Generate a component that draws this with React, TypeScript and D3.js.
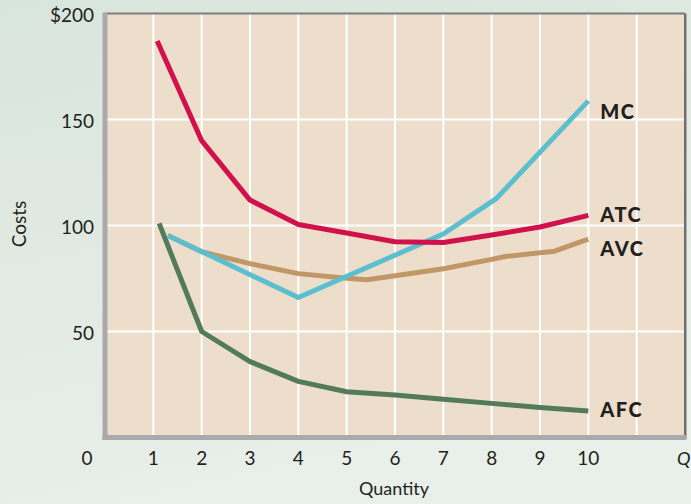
import React from "react";
import * as d3 from "d3";

const W = 691;
const H = 504;

const yTicks = [50, 100, 150, 200];
const yTickLabels = ["50", "100", "150", "$200"];
const xTicks = [0, 1, 2, 3, 4, 5, 6, 7, 8, 9, 10];
const xTickLabels = ["0", "1", "2", "3", "4", "5", "6", "7", "8", "9", "10"];

const atcQ = [1.08, 2, 3, 4, 5, 6, 7, 8, 9, 10];
const atcV = [187, 140, 112, 100.5, 96.5, 92.3, 92, 95.5, 99.3, 104.8];

const mcQ = [1.3, 4, 7, 8.1, 10];
const mcV = [95.3, 66, 96, 112.8, 158.8];

const avcQ = [1.3, 2, 3, 4, 5, 5.42, 6, 7, 8, 8.28, 9.3, 10];
const avcV = [95.3, 87.6, 82, 77.3, 75.1, 74.4, 76.3, 79.6, 84, 85.4, 87.9, 93.6];

const afcQ = [1.12, 2, 3, 4, 5, 6, 7, 8, 9, 10];
const afcV = [101, 50, 35.8, 26.5, 21.6, 20, 18, 16.1, 14.2, 12.5];

const seriesNames = ["AFC", "AVC", "MC", "ATC"];

export default function App() {
  const x = d3.scaleLinear().domain([0, 12]).range([105, 685]);
  const y = d3.scaleLinear().domain([0, 200]).range([437.5, 13.5]);

  const series = [
    { name: seriesNames[0], q: afcQ, v: afcV, color: "#537a59", dy: 6 },
    { name: seriesNames[1], q: avcQ, v: avcV, color: "#c29767", dy: 17 },
    { name: seriesNames[2], q: mcQ, v: mcV, color: "#5bbfd0", dy: 18 },
    { name: seriesNames[3], q: atcQ, v: atcV, color: "#d0114c", dy: 6.5 },
  ];

  const line = d3
    .line<[number, number]>()
    .x((d) => x(d[0]))
    .y((d) => y(d[1]));

  const font = "Lato, 'Open Sans', sans-serif";

  return (
    <svg
      width={W}
      height={H}
      style={{ position: "absolute", left: 0, top: 0, display: "block" }}
    >
      <defs>
        <linearGradient id="bg" x1="0" y1="0" x2="0.3" y2="1">
          <stop offset="0" stopColor="#d8e5dc" />
          <stop offset="1" stopColor="#e9efe9" />
        </linearGradient>
      </defs>
      <rect x={0} y={0} width={W} height={H} fill="url(#bg)" />
      {/* plot area */}
      <rect
        x={x(0)}
        y={y(200)}
        width={x(12) - x(0)}
        height={y(0) - y(200)}
        fill="#ecdecb"
      />
      {/* grid */}
      {d3.range(1, 12).map((q) => (
        <line
          key={"vx" + q}
          x1={x(q)}
          x2={x(q)}
          y1={y(200)}
          y2={y(0)}
          stroke="#ffffff"
          strokeWidth={2}
        />
      ))}
      {[50, 100, 150].map((v) => (
        <line
          key={"hy" + v}
          x1={x(0)}
          x2={x(12)}
          y1={y(v)}
          y2={y(v)}
          stroke="#ffffff"
          strokeWidth={2}
        />
      ))}
      {/* frame */}
      <line x1={x(0)} x2={x(12)} y1={y(200)} y2={y(200)} stroke="#7d7d7d" strokeWidth={2} />
      <line x1={x(12) + 1.5} x2={x(12) + 1.5} y1={y(200)} y2={y(0) + 2} stroke="#b0b0b0" strokeWidth={1} />
      <line x1={x(12)} x2={x(12)} y1={y(200)} y2={y(0)} stroke="#6e6e6e" strokeWidth={2} />
      <line x1={x(0)} x2={x(0)} y1={y(200) - 1} y2={y(0) + 2.5} stroke="#a9a9ae" strokeWidth={5} />
      <line x1={x(0) - 2.5} x2={x(12) + 1} y1={y(0)} y2={y(0)} stroke="#a9a9ae" strokeWidth={5} />

      {/* series */}
      {series.map((s) => (
        <path
          key={s.name}
          d={line(s.q.map((q, i) => [q, s.v[i]] as [number, number])) || ""}
          fill="none"
          stroke={s.color}
          strokeWidth={5}
          strokeLinejoin="round"
        />
      ))}
      {series.map((s) => (
        <text
          key={"l" + s.name}
          x={x(s.q[s.q.length - 1]) + 12}
          y={y(s.v[s.v.length - 1]) + s.dy}
          fontFamily={font}
          fontWeight={900}
          fontSize={20}
          letterSpacing={1.5}
          fill="#231f20"
        >
          {s.name}
        </text>
      ))}

      {/* y tick labels */}
      {yTicks.map((v, i) => (
        <text
          key={"yt" + v}
          x={94}
          y={y(v) + (v === 200 ? 2 : 1.5)}
          dy="0.35em"
          textAnchor="end"
          fontFamily={font}
          fontSize={19}
          fill="#231f20"
        >
          {yTickLabels[i]}
        </text>
      ))}
      {/* x tick labels */}
      {xTicks.map((q, i) => (
        <text
          key={"xt" + q}
          x={q === 0 ? x(0) - 18 : x(q)}
          y={465}
          textAnchor="middle"
          fontFamily={font}
          fontSize={19}
          fill="#231f20"
        >
          {xTickLabels[i]}
        </text>
      ))}
      <text
        x={677}
        y={465}
        fontFamily={font}
        fontSize={18}
        fontStyle="italic"
        fill="#231f20"
      >
        Q
      </text>
      {/* axis titles */}
      <text
        x={394}
        y={495}
        textAnchor="middle"
        fontFamily={font}
        fontSize={18}
        fill="#231f20"
      >
        Quantity
      </text>
      <text
        transform="translate(26,224) rotate(-90)"
        textAnchor="middle"
        fontFamily={font}
        fontSize={19}
        fill="#231f20"
      >
        Costs
      </text>
    </svg>
  );
}
